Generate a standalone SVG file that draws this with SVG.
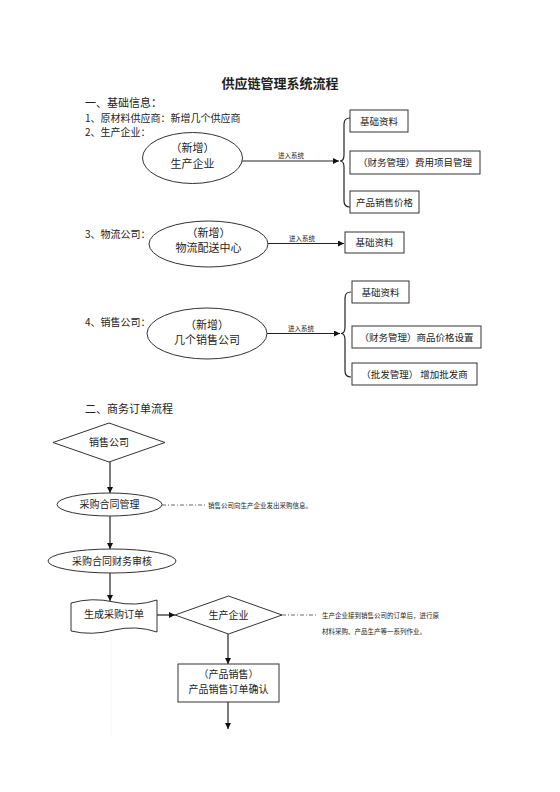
<svg xmlns="http://www.w3.org/2000/svg" width="560" height="792" viewBox="0 0 560 792">
<defs>
<marker id="ah" viewBox="0 0 10 10" refX="10" refY="5" markerWidth="6" markerHeight="6" orient="auto" markerUnits="userSpaceOnUse">
<path d="M0,0 L10,5 L0,10 Z" fill="#111"/>
</marker>
<style>
text{font-family:"Noto Sans CJK SC","Noto Sans",sans-serif;fill:#222}
.t{font-size:13px;font-weight:bold;text-anchor:middle}
.h{font-size:11px}
.b{font-size:10px}
.bx{font-size:9.5px;text-anchor:middle}
.c{font-size:11px;text-anchor:middle}
.m{font-size:10px;text-anchor:middle}
.s{font-size:6.5px;text-anchor:middle}
.n{font-size:6.5px}
.shape{fill:#fff;stroke:#333;stroke-width:1}
.ln{fill:none;stroke:#222;stroke-width:1.2}
.dd{fill:none;stroke:#444;stroke-width:0.8;stroke-dasharray:4,2,1,2}
</style>
</defs>
<rect width="560" height="792" fill="#fff"/>
<text class="t" x="280" y="88">供应链管理系统流程</text>
<text class="h" x="85" y="107">一、基础信息：</text>
<text class="b" x="85" y="122">1、原材料供应商：新增几个供应商</text>
<text class="b" x="85" y="136">2、生产企业：</text>
<text class="b" x="85" y="238">3、物流公司：</text>
<text class="b" x="85" y="326">4、销售公司：</text>
<text class="h" x="85" y="413">二、商务订单流程</text>

<g id="connectors">
<line class="ln" x1="242" y1="161" x2="339" y2="161" marker-end="url(#ah)"/>
<text class="s" x="291" y="158">进入系统</text>
<path class="ln" d="M350,118 Q344,118 344,124 L344,155 Q344,161 340,161 Q344,161 344,167 L344,201 Q344,207 350,207"/>
<line class="ln" x1="268" y1="243.5" x2="344" y2="243.5" marker-end="url(#ah)"/>
<text class="s" x="302" y="240.5">进入系统</text>
<line class="ln" x1="267" y1="333.5" x2="340" y2="333.5" marker-end="url(#ah)"/>
<text class="s" x="301" y="330.5">进入系统</text>
<path class="ln" d="M351,292 Q345,292 345,298 L345,327 Q345,333.5 341,333.5 Q345,333.5 345,340 L345,371 Q345,377 351,377"/>
<line class="ln" x1="110" y1="462" x2="110" y2="493" marker-end="url(#ah)"/>
<line class="ln" x1="110" y1="516" x2="110" y2="549" marker-end="url(#ah)"/>
<line class="ln" x1="110" y1="573" x2="110" y2="601" marker-end="url(#ah)"/>
<line class="ln" x1="157" y1="615" x2="175" y2="615" marker-end="url(#ah)"/>
<line class="ln" x1="228" y1="634" x2="228" y2="664" marker-end="url(#ah)"/>
<line class="ln" x1="228" y1="702" x2="228" y2="729" marker-end="url(#ah)"/>
<line x1="111" y1="634" x2="111" y2="735" stroke="#ececec" stroke-width="0.6"/>
<line class="dd" x1="162" y1="505" x2="206" y2="505"/>
<line class="dd" x1="282" y1="615" x2="318" y2="615"/>
</g>

<g id="n-ellipse1">
<ellipse class="shape" cx="192.5" cy="158" rx="50" ry="25.5"/>
<text class="c" x="192.5" y="152">（新增）</text>
<text class="c" x="192.5" y="168">生产企业</text>
</g>
<g id="n-b1"><rect class="shape" x="350" y="110" width="58" height="22"/><text class="bx" x="379" y="124.5">基础资料</text></g>
<g id="n-b2"><rect class="shape" x="350" y="151" width="130" height="23"/><text class="bx" x="415" y="166">（财务管理）费用项目管理</text></g>
<g id="n-b3"><rect class="shape" x="350" y="191" width="69" height="22"/><text class="bx" x="384.5" y="205.5">产品销售价格</text></g>

<g id="n-ellipse2">
<ellipse class="shape" cx="208.5" cy="244" rx="59.5" ry="23"/>
<text class="c" x="208.5" y="237">（新增）</text>
<text class="c" x="208.5" y="252">物流配送中心</text>
</g>
<g id="n-b4"><rect class="shape" x="345" y="232" width="59" height="21"/><text class="bx" x="374.5" y="246">基础资料</text></g>

<g id="n-ellipse3">
<ellipse class="shape" cx="207" cy="333.5" rx="60" ry="25.5"/>
<text class="c" x="207" y="328.5">（新增）</text>
<text class="c" x="207" y="344">几个销售公司</text>
</g>
<g id="n-b5"><rect class="shape" x="352" y="281" width="57" height="22"/><text class="bx" x="380.5" y="295.5">基础资料</text></g>
<g id="n-b6"><rect class="shape" x="352" y="326" width="129" height="22"/><text class="bx" x="416.5" y="340.5">（财务管理）商品价格设置</text></g>
<g id="n-b7"><rect class="shape" x="352" y="363" width="125" height="22"/><text class="bx" x="414.5" y="377.5">（批发管理） 增加批发商</text></g>

<g id="n-d1">
<polygon class="shape" points="109,423 165,442.5 109,462 53,442.5"/>
<text class="m" x="109" y="446">销售公司</text>
</g>
<g id="n-e4">
<ellipse class="shape" cx="109.5" cy="504.5" rx="52.5" ry="11.5"/>
<text class="m" x="109.5" y="508">采购合同管理</text>
</g>
<text class="n" x="208" y="507.5">销售公司向生产企业发出采购信息。</text>
<g id="n-e5">
<ellipse class="shape" cx="112" cy="561" rx="64" ry="12"/>
<text class="m" x="112" y="564.5">采购合同财务审核</text>
</g>
<g id="n-doc">
<path class="shape" d="M71,603 Q92,597 114,602 Q136,607 157,600 L157,632 Q136,625 114,630 Q92,636 71,631 Z"/>
<text class="m" x="114" y="618">生成采购订单</text>
</g>
<g id="n-d2">
<polygon class="shape" points="228.5,596 282,615 228.5,634 175,615"/>
<text class="m" x="228.5" y="618.5">生产企业</text>
</g>
<text class="n" x="322" y="618">生产企业接到销售公司的订单后，进行原</text>
<text class="n" x="322" y="634">材料采购、产品生产等一系列作业。</text>
<g id="n-r1">
<rect class="shape" x="178" y="664" width="101" height="38"/>
<text class="m" x="228.5" y="678">（产品销售）</text>
<text class="m" x="228.5" y="693">产品销售订单确认</text>
</g>
</svg>
